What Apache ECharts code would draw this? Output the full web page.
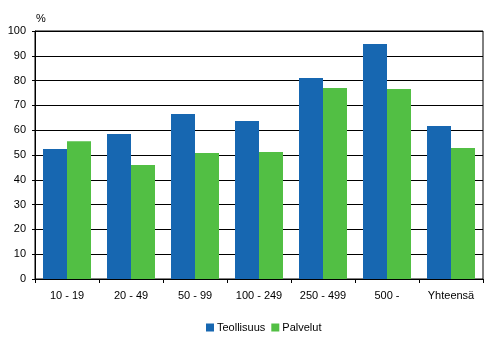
<!DOCTYPE html>
<html>
<head>
<meta charset="utf-8">
<script src="https://cdn.jsdelivr.net/npm/echarts@6/dist/echarts.min.js"></script>
<style>
  html, body { margin: 0; padding: 0; background: #fff; }
  #chart { width: 495px; height: 344px; }
</style>
</head>
<body>
<div id="chart"></div>
<script>
// luokat ja arvot (%)
var categories = ['10 - 19', '20 - 49', '50 - 99', '100 - 249', '250 - 499', '500 -', 'Yhteensä'];
var teollisuus = [52.4, 58.5, 66.5, 63.7, 81.0, 94.8, 61.7];
var palvelut = [55.5, 46.0, 50.8, 51.2, 77.0, 76.6, 52.8];
var seriesNames = ['Teollisuus', 'Palvelut'];

var myChart = echarts.init(document.getElementById('chart'));
var font = 'Liberation Sans, Arial, sans-serif';

var option = {
	animation: false,
	textStyle: { fontFamily: font },
	grid: {
		left: 35, right: 12, top: 31, bottom: 65,
		show: true, borderColor: '#000', borderWidth: 1
	},
	legend: {
		bottom: 6, left: 201,
		itemWidth: 8, itemHeight: 8, itemGap: 6,
		icon: 'rect',
		textStyle: { fontSize: 11, color: '#000', fontFamily: font, padding: [0, 0, 0, -2] },
		data: seriesNames
	},
	xAxis: {
		type: 'category',
		data: categories,
		axisLine: { lineStyle: { color: '#000', width: 1 } },
		axisTick: { show: true, inside: false, length: 4, lineStyle: { color: '#000' } },
		axisLabel: { color: '#000', fontSize: 11, margin: 11, fontFamily: font }
	},
	yAxis: {
		type: 'value',
		min: 0, max: 100, interval: 10,
		name: '%',
		nameLocation: 'end',
		nameGap: 7,
		nameTextStyle: { color: '#000', fontSize: 11, align: 'left', padding: [0, 0, 0, 1], fontFamily: font },
		axisLine: { show: true, lineStyle: { color: '#000', width: 1 } },
		axisTick: { show: true, inside: false, length: 3, lineStyle: { color: '#000' } },
		axisLabel: { color: '#000', fontSize: 11, margin: 9, fontFamily: font },
		splitLine: { show: true, lineStyle: { color: '#000', width: 1 } }
	},
	series: [
		{
			name: seriesNames[0], type: 'bar', data: teollisuus,
			itemStyle: { color: '#1767b1' },
			barGap: '0%', barCategoryGap: '25%'
		},
		{
			name: seriesNames[1], type: 'bar', data: palvelut,
			itemStyle: { color: '#52bf44' },
			barGap: '0%', barCategoryGap: '25%'
		}
	]
};
myChart.setOption(option);
</script>
</body>
</html>
